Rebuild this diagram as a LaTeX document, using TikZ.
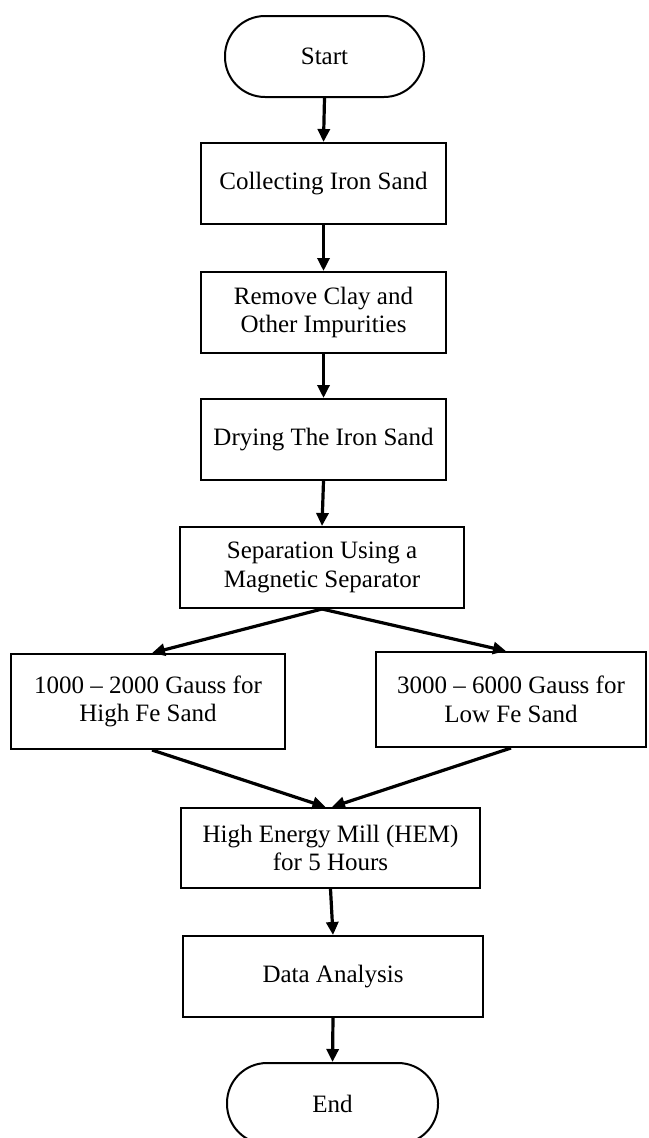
\documentclass[tikz,border=0pt]{standalone}
\usepackage{fontspec}
\setmainfont{Liberation Serif}
\usetikzlibrary{arrows.meta}
\tikzset{
  box/.style={draw=black, line width=2pt, rectangle, inner sep=0pt, align=center,
    font=\fontsize{25}{28.5}\selectfont},
  term/.style={box, rounded corners=40pt},
  flow/.style={line width=3.2pt, -{Triangle[length=13pt,width=12pt]}},
}
\begin{document}
\begin{tikzpicture}[x=1pt,y=-1pt]
\useasboundingbox (0,0) rectangle (648,1138);
\node[term, minimum width=199pt, minimum height=81pt] (start) at (324.5,56.5) {Start};
\node[box, minimum width=245pt, minimum height=81pt] (coll) at (323.5,183.5) {Collecting Iron Sand};
\node[box, minimum width=245pt, minimum height=81pt] (remove) at (323.5,312.5) {Remove Clay and\\Other Impurities};
\node[box, minimum width=245pt, minimum height=81pt] (dry) at (323.5,439.5) {Drying The Iron Sand};
\node[box, minimum width=284pt, minimum height=81pt] (sep) at (322,567.5) {Separation Using a\\Magnetic Separator};
\node[box, minimum width=274pt, minimum height=95pt] (left) at (148,701.5) {1000 – 2000 Gauss for\\High Fe Sand};
\node[box, minimum width=270pt, minimum height=95pt] (right) at (511,699.5) {3000 – 6000 Gauss for\\Low Fe Sand};
\node[box, minimum width=299pt, minimum height=80pt] (hem) at (330.5,848) {High Energy Mill (HEM)\\for 5 Hours};
\node[box, minimum width=300pt, minimum height=81pt] (data) at (333,976.5) {Data Analysis};
\node[term, minimum width=211pt, minimum height=81pt] (end) at (332.5,1103.5) {End};
\draw[flow] (start.south) -- (coll.north);
\draw[flow] (coll.south) -- (remove.north);
\draw[flow] (remove.south) -- (dry.north);
\draw[flow] (dry.south) -- (sep.north);
\draw[flow] (sep.south) -- ([xshift=4pt]left.north);
\draw[flow] (sep.south) -- ([xshift=-5pt]right.north);
\draw[flow] ([xshift=4pt]left.south) -- ([xshift=-5pt]hem.north);
\draw[flow] (right.south) -- ([xshift=1.5pt]hem.north);
\draw[flow] (hem.south) -- (data.north);
\draw[flow] (data.south) -- (end.north);
\end{tikzpicture}
\end{document}
